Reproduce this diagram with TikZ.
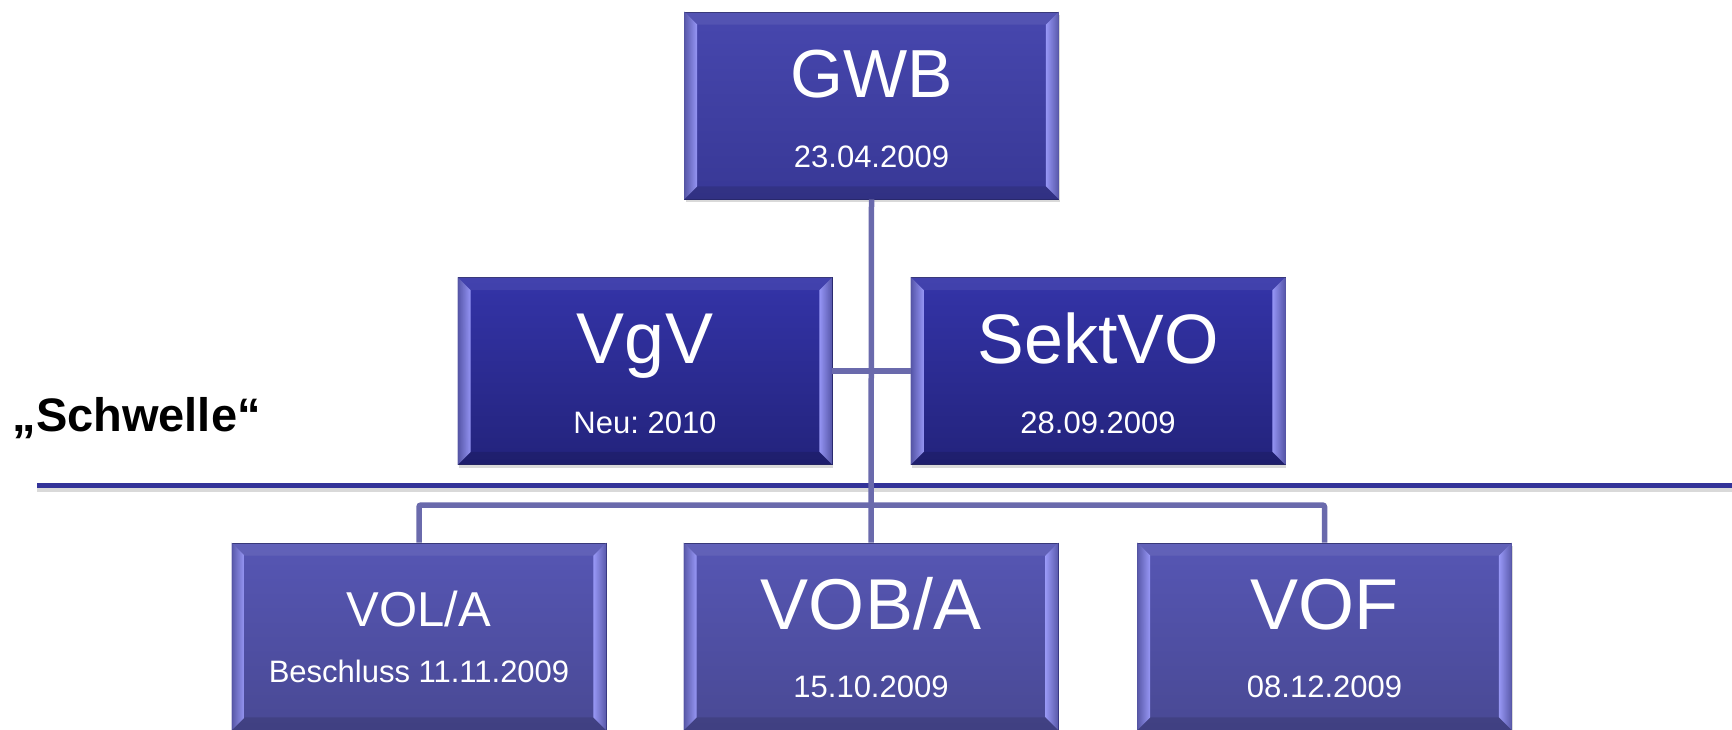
\documentclass[tikz,border=0pt]{standalone}
\usepackage{fontspec}
\setmainfont{Liberation Sans}
\frenchspacing
\usetikzlibrary{shadows}
\definecolor{gwbtop}{HTML}{4747AE}
\definecolor{gwbbot}{HTML}{383896}
\definecolor{midtop}{HTML}{3434A8}
\definecolor{midbot}{HTML}{23237C}
\definecolor{lowtop}{HTML}{5656B4}
\definecolor{lowbot}{HTML}{494994}
\definecolor{boxedge}{HTML}{2A2A70}
\definecolor{bevlight}{HTML}{A0A0FF}
\definecolor{connblue}{HTML}{6A6AAC}
\definecolor{linieblue}{HTML}{333399}
\tikzset{
  box/.style={rectangle, minimum width=374pt, minimum height=187pt, inner sep=0pt,
    draw=boxedge, line width=0.8pt,
    drop shadow={shadow xshift=1pt, shadow yshift=-3pt, opacity=0.3}},
  topbox/.style={box, top color=gwbtop, bottom color=gwbbot},
  midbox/.style={box, top color=midtop, bottom color=midbot},
  lowbox/.style={box, top color=lowtop, bottom color=lowbot},
  title/.style={anchor=base, text=white, font=\fontsize{#1pt}{#1pt}\selectfont},
  date/.style={anchor=base, text=white, font=\fontsize{31pt}{31pt}\selectfont},
  conn/.style={draw=connblue, line width=5.5pt, rounded corners=2pt}
}
% bevel edges of a box
\newcommand{\bevel}[1]{%
  \shade[left color=bevlight!40!boxedge, right color=bevlight, opacity=0.9]
    (#1.north west) -- ++(13,13) -- ([shift={(13,-13)}]#1.south west) -- (#1.south west) -- cycle;
  \shade[left color=bevlight, right color=bevlight!40!boxedge, opacity=0.9]
    (#1.north east) -- ++(-13,13) -- ([shift={(-13,-13)}]#1.south east) -- (#1.south east) -- cycle;
  \fill[white, opacity=0.07]
    (#1.north west) -- ++(13,13) -- ([shift={(-13,13)}]#1.north east) -- (#1.north east) -- cycle;
  \fill[black, opacity=0.12]
    (#1.south west) -- ++(13,-13) -- ([shift={(-13,-13)}]#1.south east) -- (#1.south east) -- cycle;
}
\begin{document}
\begin{tikzpicture}[x=1pt, y=-1pt]
\clip (0,0) rectangle (1732,729);
% Schwelle
\coordinate (sepL) at (37,485);
\coordinate (sepR) at (1732,485);
\draw[black!25, line width=5pt, opacity=0.6] ([yshift=-4pt]sepL) -- ([yshift=-4pt]sepR);
\draw[linieblue, line width=5pt] (sepL) -- (sepR);
\node[anchor=base west, font=\fontsize{47pt}{47pt}\selectfont\bfseries] (schw) at (9,431) {„Schwelle“};
% boxes
\node[topbox] (gwb) at (871.5,105.5) {};
\node[midbox] (vgv) at (645,371) {};
\node[midbox] (sekt) at (1098,371) {};
\node[lowbox] (vol) at (419,636.5) {};
\node[lowbox] (vob) at (871,636.5) {};
\node[lowbox] (vof) at (1324.5,636.5) {};
\foreach \b in {gwb,vgv,sekt,vol,vob,vof} {\bevel{\b}}
% connectors
\coordinate (bus) at (871,505);
\draw[conn] (gwb.south) -- (vob.north);
\draw[conn] (vgv.east) -- (sekt.west);
\draw[conn] (vol.north) |- (bus) -| (vof.north);
% texts
\node[title=68] at ([yshift=-86pt]gwb.north) {GWB};
\node[date] at ([yshift=-156pt]gwb.north) {23.04.2009};
\node[title=72] at ([yshift=-86pt]vgv.north) {VgV};
\node[date] at ([yshift=-156pt]vgv.north) {Neu: 2010};
\node[title=70] at ([yshift=-86pt]sekt.north) {SektVO};
\node[date] at ([yshift=-156pt]sekt.north) {28.09.2009};
\node[title=49] at ([yshift=-84pt]vol.north) {VOL/A};
\node[date] at ([yshift=-140pt]vol.north) {Beschluss 11.11.2009};
\node[title=72] at ([yshift=-87pt]vob.north) {VOB/A};
\node[date] at ([yshift=-155pt]vob.north) {15.10.2009};
\node[title=72] at ([yshift=-87pt]vof.north) {VOF};
\node[date] at ([yshift=-155pt]vof.north) {08.12.2009};
\end{tikzpicture}
\end{document}
